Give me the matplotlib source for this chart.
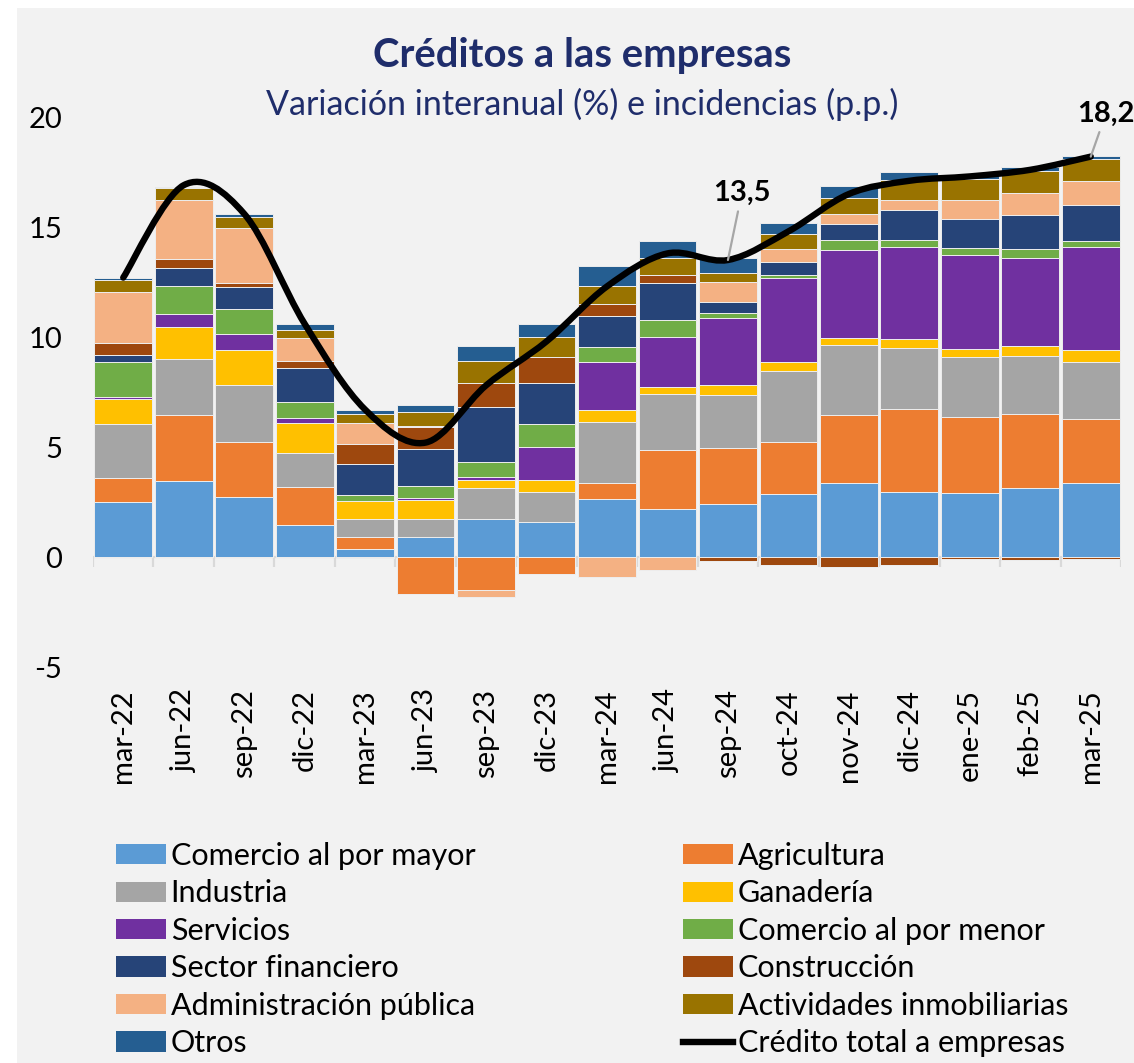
import numpy as np
import matplotlib
matplotlib.use("Agg")
import matplotlib.pyplot as plt
from matplotlib.path import Path
from matplotlib.patches import PathPatch, Patch, Rectangle
from matplotlib.lines import Line2D

plt.rcParams['font.family'] = ['Lato', 'DejaVu Sans']

categories = ['mar-22', 'jun-22', 'sep-22', 'dic-22', 'mar-23', 'jun-23', 'sep-23', 'dic-23',
              'mar-24', 'jun-24', 'sep-24', 'oct-24', 'nov-24', 'dic-24', 'ene-25', 'feb-25', 'mar-25']

comercio_mayor = [2.5, 3.45, 2.74, 1.44, 0.36, 0.92, 1.74, 1.6, 2.62, 2.2, 2.39, 2.88, 3.38, 2.95, 2.91, 3.15, 3.35]
agricultura = [1.1, 2.99, 2.48, 1.76, 0.56, -1.7, -1.48, -0.76, 0.76, 2.65, 2.55, 2.35, 3.09, 3.8, 3.47, 3.35, 2.91]
industria = [2.45, 2.58, 2.62, 1.52, 0.82, 0.82, 1.41, 1.35, 2.76, 2.58, 2.44, 3.24, 3.15, 2.76, 2.73, 2.65, 2.59]
ganaderia = [1.13, 1.45, 1.55, 1.39, 0.82, 0.83, 0.35, 0.55, 0.56, 0.3, 0.45, 0.39, 0.32, 0.39, 0.36, 0.44, 0.58]
servicios = [0.1, 0.59, 0.76, 0.21, -0.05, 0.1, 0.15, 1.52, 2.17, 2.27, 3.05, 3.83, 4.03, 4.21, 4.26, 4.0, 4.64]
comercio_menor = [1.58, 1.26, 1.11, 0.73, 0.24, 0.58, 0.67, 1.02, 0.68, 0.76, 0.21, 0.15, 0.44, 0.29, 0.32, 0.39, 0.3]
sector_financiero = [0.3, 0.83, 1.03, 1.56, 1.42, 1.68, 2.48, 1.89, 1.41, 1.71, 0.5, 0.56, 0.73, 1.36, 1.33, 1.58, 1.61]
construccion = [0.59, 0.41, 0.17, 0.29, 0.92, 0.97, 1.1, 1.17, 0.52, 0.33, -0.18, -0.35, -0.47, -0.38, -0.11, -0.15, -0.08]
adm_publica = [2.3, 2.67, 2.48, 1.06, 0.94, 0.05, -0.35, 0.0, -0.92, -0.58, 0.92, 0.62, 0.47, 0.45, 0.83, 0.98, 1.09]
inmobiliarias = [0.53, 0.56, 0.5, 0.35, 0.41, 0.62, 1.03, 0.91, 0.83, 0.77, 0.42, 0.64, 0.71, 0.91, 0.95, 1.0, 1.0]
otros = [0.09, 0.05, 0.14, 0.29, 0.17, 0.32, 0.65, 0.58, 0.92, 0.79, 0.67, 0.53, 0.55, 0.36, 0.21, 0.2, 0.18]
credito_total = [12.7, 16.9, 15.6, 10.6, 6.7, 5.2, 7.8, 9.8, 12.3, 13.8, 13.5, 14.8, 16.5, 17.1, 17.3, 17.6, 18.2]

series_names = ['Comercio al por mayor', 'Agricultura', 'Industria', 'Ganadería', 'Servicios',
                'Comercio al por menor', 'Sector financiero', 'Construcción',
                'Administración pública', 'Actividades inmobiliarias', 'Otros']
series_values = [comercio_mayor, agricultura, industria, ganaderia, servicios, comercio_menor,
                 sector_financiero, construccion, adm_publica, inmobiliarias, otros]
series_colors = ['#5B9BD5', '#ED7D31', '#A5A5A5', '#FFC000', '#7030A0', '#70AD47',
                 '#264478', '#9E480E', '#F4B183', '#997300', '#255E91']
line_name = 'Crédito total a empresas'
labels_annot = {10: '13,5', 16: '18,2'}

W, H = 1134, 1063
fig = plt.figure(figsize=(W / 100, H / 100), dpi=100)
fig.patch.set_facecolor('white')
fig.patches.append(Rectangle((17 / W, 0), 1, 1 - 8 / H, transform=fig.transFigure,
                             facecolor='#F2F2F2', edgecolor='none', zorder=-10))

ax = fig.add_axes([93 / W, 1 - 667 / H, (1121 - 93) / W, 550 / H])
ax.set_facecolor('none')

x = np.arange(len(categories))
pos_base = np.zeros(len(categories))
neg_base = np.zeros(len(categories))
for name, vals, col in zip(series_names, series_values, series_colors):
    v = np.array(vals, dtype=float)
    pos = np.where(v > 0, v, 0)
    neg = np.where(v < 0, v, 0)
    ax.bar(x, pos, bottom=pos_base, width=0.955, color=col, edgecolor='#EDEDED', linewidth=0.7, zorder=2)
    ax.bar(x, neg, bottom=neg_base, width=0.955, color=col, edgecolor='#EDEDED', linewidth=0.7, zorder=2)
    pos_base += pos
    neg_base += neg

# smoothed total line (Bezier through data points, like Excel smoothing)
P = np.column_stack([x, np.array(credito_total, dtype=float)])
n = len(P)
verts = [tuple(P[0])]
codes = [Path.MOVETO]
for i in range(n - 1):
    p0 = P[i - 1] if i > 0 else P[i]
    p1 = P[i]
    p2 = P[i + 1]
    p3 = P[i + 2] if i + 2 < n else P[i + 1]
    c1 = p1 + (p2 - p0) / 6.0
    c2 = p2 - (p3 - p1) / 6.0
    verts += [tuple(c1), tuple(c2), tuple(p2)]
    codes += [Path.CURVE4, Path.CURVE4, Path.CURVE4]
ax.add_patch(PathPatch(Path(verts, codes), fill=False, edgecolor='black', lw=4.6,
                       capstyle='round', joinstyle='round', zorder=4))

ax.set_xlim(-0.5, len(categories) - 0.5)
ax.set_ylim(-5, 20)
ax.set_yticks([-5, 0, 5, 10, 15, 20])
ax.set_yticklabels(['-5', '0', '5', '10', '15', '20'])
ax.tick_params(axis='y', length=0, pad=22, labelsize=21)
ax.set_xticks(x)
ax.set_xticklabels(categories, rotation=90)
ax.tick_params(axis='x', length=0, pad=16, labelsize=21)
for s in ax.spines.values():
    s.set_visible(False)

# zero axis line with category boundary ticks
ax.axhline(0, color='#D9D9D9', lw=1.6, zorder=1)
ax.vlines(np.arange(len(categories) + 1) - 0.5, -0.45, 0, color='#D9D9D9', lw=1.6, zorder=1)

# data labels
ax.annotate(labels_annot[10], xy=(10, credito_total[10]), xytext=(10.23, 16.55),
            ha='center', va='center', fontsize=21, fontweight='bold', color='black',
            arrowprops=dict(arrowstyle='-', color='#A6A6A6', lw=1.6, shrinkA=2, shrinkB=0),
            annotation_clip=False, zorder=5)
ax.annotate(labels_annot[16], xy=(16, credito_total[16]), xytext=(16.25, 20.15),
            ha='center', va='center', fontsize=21, fontweight='bold', color='black',
            arrowprops=dict(arrowstyle='-', color='#A6A6A6', lw=1.6, shrinkA=2, shrinkB=0),
            annotation_clip=False, zorder=5)

# titles
fig.text(582 / W, 1 - 56 / H, 'Créditos a las empresas', ha='center', va='center',
         fontsize=28.8, fontweight='bold', color='#1F2D6B')
fig.text(582 / W, 1 - 104 / H, 'Variación interanual (%) e incidencias (p.p.)', ha='center', va='center',
         fontsize=24.5, color='#1F2D6B')

# legend (two columns, row-wise order)
handles = [Patch(facecolor=c, edgecolor='none') for c in series_colors]
line_handle = Line2D([0], [0], color='black', lw=4.6)
left_idx = [0, 2, 4, 6, 8, 10]
right_idx = [1, 3, 5, 7, 9]
leg_kw = dict(frameon=False, fontsize=22, handlelength=1.63, handleheight=0.65,
              handletextpad=0.16, labelspacing=0.31, borderpad=0, borderaxespad=0, loc='upper left')
leg1 = fig.legend([handles[i] for i in left_idx], [series_names[i] for i in left_idx],
                  bbox_to_anchor=(116 / W, 1 - 842 / H), **leg_kw)
leg2 = fig.legend([handles[i] for i in right_idx] + [line_handle],
                  [series_names[i] for i in right_idx] + [line_name],
                  bbox_to_anchor=(683 / W, 1 - 842 / H), **leg_kw)

fig.savefig('out.png', dpi=100, facecolor=fig.get_facecolor())
